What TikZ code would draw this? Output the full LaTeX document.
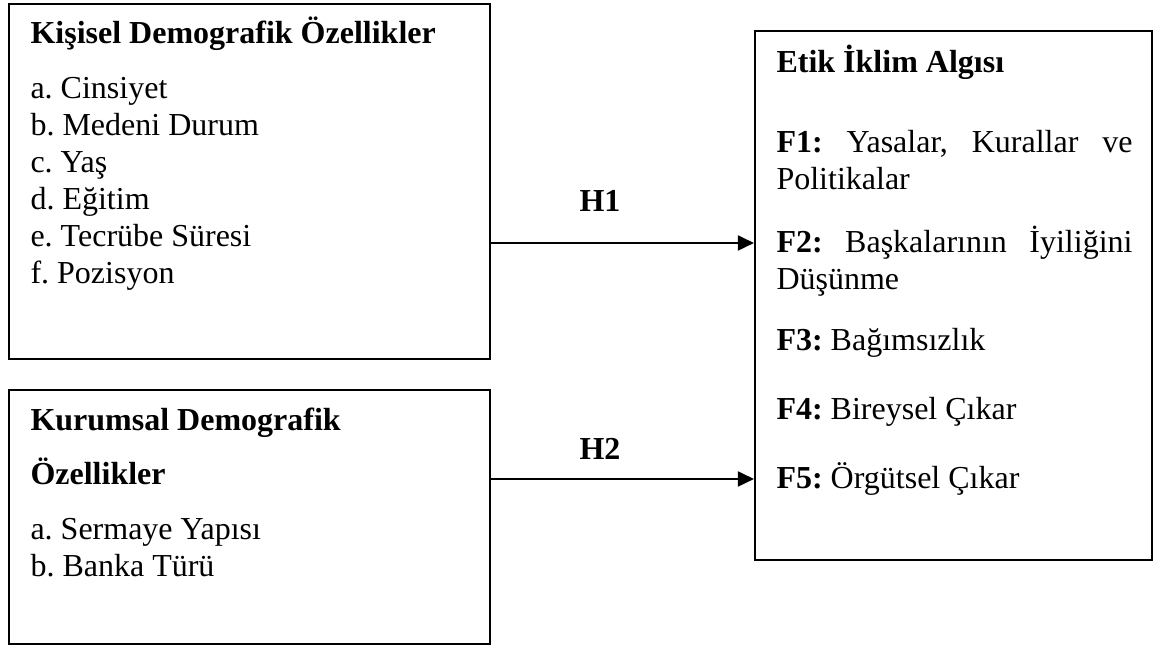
\documentclass[tikz,border=0pt]{standalone}
\usepackage{fontspec}
\setmainfont{Liberation Serif}
\usetikzlibrary{arrows.meta}
\newcommand\yazi{\fontsize{12}{13.8}\selectfont\frenchspacing}
\tikzset{
	kutu/.style = {rectangle, draw=black, line width=0.75pt, inner sep=0pt},
	baslik/.style = {anchor=base west, inner sep=0pt, font=\yazi\bfseries},
	madde/.style = {anchor=base west, inner sep=0pt, font=\yazi},
	faktor/.style = {madde, text width=133.5pt, align=justify},
	etiket/.style = {anchor=base, inner sep=0pt, font=\yazi\bfseries},
	ok/.style = {line width=0.75pt, -{Triangle[length=6pt, width=5.6pt]}}
}

\begin{document}
\begin{tikzpicture}[x=0.375pt, y=-0.375pt]
		\useasboundingbox (0,0) rectangle (1166,646);
		\node [kutu, minimum width=180.4pt, minimum height=133.1pt] (kisisel) at (249.5,181.5) {};
		\node [kutu, minimum width=180.4pt, minimum height=95.25pt] (kurumsal) at (249.5,517) {};
		\node [kutu, minimum width=148.9pt, minimum height=198.4pt] (etik) at (953.5,295.5) {};

		\node [baslik] (kisiselbaslik) at (30,44) {Kişisel Demografik Özellikler};
		\foreach \m [count=\i from 0] in {a. Cinsiyet, b. Medeni Durum, c. Yaş, d. Eğitim, e. Tecrübe Süresi, f. Pozisyon}
			\node [madde] (kisisel\i) at (30,{99+37*\i}) {\m};

		\node [baslik] (kurumsalbaslik) at (30,431) {Kurumsal Demografik};
		\node [baslik] (kurumsalbaslik2) at (30,485) {Özellikler};
		\node [madde] (kurumsal0) at (30,540) {a. Sermaye Yapısı};
		\node [madde] (kurumsal1) at (30,577) {b. Banka Türü};

		\node [baslik] (etikbaslik) at (776,73) {Etik İklim Algısı};
		\node [faktor] (f1) at (776,153) {\textbf{F1:} Yasalar, Kurallar ve\linebreak Politikalar};
		\node [faktor] (f2) at (776,253) {\textbf{F2:} Başkalarının İyiliğini\linebreak Düşünme};
		\node [madde] (f3) at (776,351) {\textbf{F3:} Bağımsızlık};
		\node [madde] (f4) at (776,420) {\textbf{F4:} Bireysel Çıkar};
		\node [madde] (f5) at (776,489) {\textbf{F5:} Örgütsel Çıkar};

		\coordinate (h1) at (600,243);
		\coordinate (h2) at (600,479);
		\draw [ok] (kisisel.east |- h1) -- (etik.west |- h1);
		\draw [ok] (kurumsal.east |- h2) -- (etik.west |- h2);
		\node [etiket] (h1etiket) at (600,212) {H1};
		\node [etiket] (h2etiket) at (600,460) {H2};
\end{tikzpicture}
\end{document}
